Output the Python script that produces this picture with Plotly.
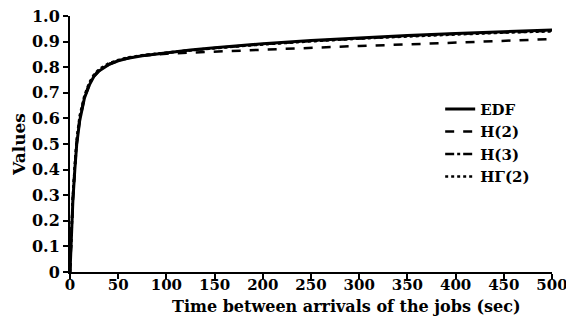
import plotly.graph_objects as go

x = [0, 1, 2, 3, 5, 7, 10, 15, 20, 25, 30, 40, 50, 60, 75, 100, 125, 150, 200, 250, 300, 350, 400, 450, 500]
edf = [0, 0.10, 0.20, 0.28, 0.40, 0.50, 0.59, 0.68, 0.73, 0.765, 0.785, 0.81, 0.825, 0.835, 0.845, 0.857, 0.867, 0.876, 0.892, 0.904, 0.915, 0.924, 0.932, 0.939, 0.945]
h2 = [0, 0.10, 0.20, 0.28, 0.40, 0.50, 0.59, 0.68, 0.73, 0.765, 0.785, 0.81, 0.825, 0.835, 0.845, 0.853, 0.857, 0.861, 0.867, 0.875, 0.883, 0.889, 0.896, 0.903, 0.910]
h3 = [0, 0.11, 0.21, 0.29, 0.41, 0.51, 0.60, 0.685, 0.735, 0.768, 0.788, 0.812, 0.826, 0.836, 0.846, 0.857, 0.866, 0.875, 0.890, 0.902, 0.913, 0.922, 0.930, 0.937, 0.942]
hg2 = [0, 0.12, 0.22, 0.30, 0.42, 0.52, 0.61, 0.69, 0.74, 0.772, 0.792, 0.815, 0.828, 0.838, 0.847, 0.857, 0.866, 0.874, 0.889, 0.901, 0.912, 0.920, 0.928, 0.935, 0.940]
names = ["EDF", "H(2)", "H(3)", "HΓ(2)"]
dashes = ["solid", "dash", "dashdot", "dot"]
widths = [3, 2.5, 2.5, 2.5]

xticks = [0, 50, 100, 150, 200, 250, 300, 350, 400, 450, 500]
yticks = [0, 0.1, 0.2, 0.3, 0.4, 0.5, 0.6, 0.7, 0.8, 0.9, 1.0]
yticktext = ["0", "0.1", "0.2", "0.3", "0.4", "0.5", "0.6", "0.7", "0.8", "0.9", "1.0"]
xtitle = "Time between arrivals of the jobs (sec)"

fig = go.Figure()
for name, ys, d, w in zip(names, [edf, h2, h3, hg2], dashes, widths):
    fig.add_trace(go.Scatter(x=x, y=ys, mode="lines", name=name,
                             line=dict(color="black", dash=d, width=w)))

font = "DejaVu Serif"
fig.add_annotation(text=xtitle, xref="paper", yref="paper", x=0.573, y=0,
                   xanchor="center", yanchor="top", yshift=-23, showarrow=False,
                   font=dict(family=font, size=16, weight="bold", color="black"))
fig.update_layout(
    width=566, height=322,
    margin=dict(l=62, r=22, t=8, b=58),
    plot_bgcolor="white", paper_bgcolor="white",
    font=dict(family=font, color="black", size=15, weight="bold"),
    showlegend=True,
    legend=dict(x=0.768, y=0.70, xanchor="left", yanchor="top",
                bgcolor="rgba(0,0,0,0)", tracegroupgap=0,
                font=dict(family=font, size=15, color="black", weight="bold"),
                itemwidth=30),
    xaxis=dict(range=[0, 500], tickvals=xticks, showgrid=False, zeroline=False,
               automargin=False, ticklabelstandoff=-7,
               showline=True, linecolor="black", linewidth=2,
               ticks="outside", ticklen=5, tickwidth=2, tickcolor="black",
               tickfont=dict(family=font, size=15, weight="bold")),
    yaxis=dict(range=[0, 1.0], tickvals=yticks, ticktext=yticktext, showgrid=False,
               automargin=False, ticklabeloverflow="allow",
               zeroline=False, showline=True, linecolor="black", linewidth=2,
               ticks="outside", ticklen=5, tickwidth=2, tickcolor="black",
               tickfont=dict(family=font, size=16, weight="bold"),
               title=dict(text="Values", font=dict(family=font, size=17, weight="bold"),
                          standoff=2)),
)
fig.write_html("out.html")
